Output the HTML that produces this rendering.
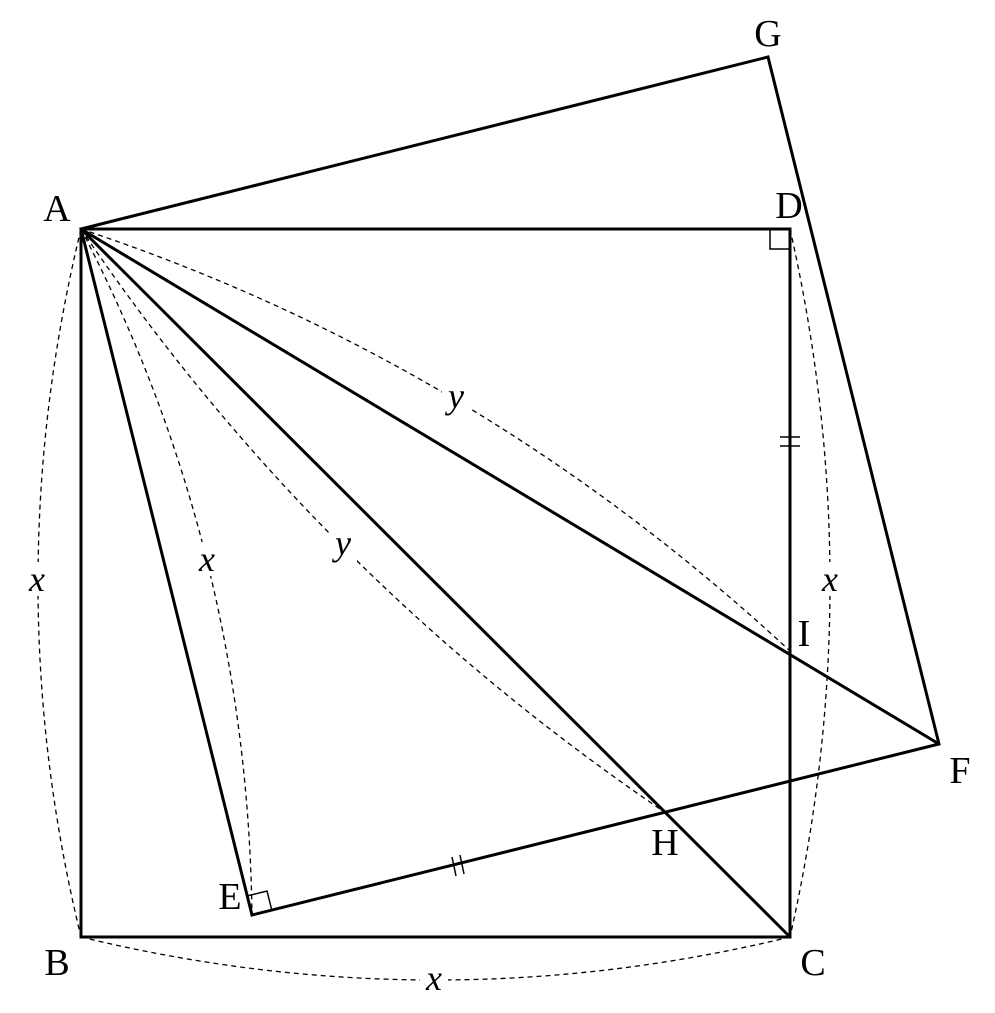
<!DOCTYPE html>
<html><head><meta charset="utf-8"><style>html,body{margin:0;padding:0;background:#fff}svg{display:block}</style></head>
<body>
<svg width="995" height="1013" viewBox="0 0 995 1013" xmlns="http://www.w3.org/2000/svg">
<g fill="none" stroke="#000" stroke-width="1.3" stroke-dasharray="5,4">
<path d="M81,229 Q-5,583 81,937"/>
<path d="M81,937 Q435,1023 790,937"/>
<path d="M790,229 Q870,583 790,937"/>
<path d="M81,229 Q247,548 252,915"/>
<path d="M81,229 Q314,574 663,811"/>
<path d="M81,229 Q476,360 790,651"/>
</g>
<g fill="none" stroke="#000" stroke-width="3" stroke-linejoin="miter">
<polygon points="81,229 790,229 790,937 81,937"/>
<polygon points="81,229 768,57 939,744 252,915"/>
<line x1="81" y1="229" x2="790" y2="937"/>
<line x1="81" y1="229" x2="939" y2="744"/>
</g>
<g fill="none" stroke="#000" stroke-width="1.5">
<polyline points="770,229 770,249 790,249"/>
<polyline points="247,896 267,891 272,911"/>
<line x1="780" y1="437" x2="800" y2="437"/>
<line x1="780" y1="446" x2="800" y2="446"/>
<line x1="452" y1="857" x2="456" y2="876"/>
<line x1="460" y1="855" x2="464" y2="874"/>
</g>
<g font-family="Liberation Serif, serif" font-size="38" fill="#000" text-anchor="middle">
<text x="57" y="221">A</text>
<text x="768" y="46">G</text>
<text x="789" y="218">D</text>
<text x="804" y="646">I</text>
<text x="960" y="783">F</text>
<text x="665" y="855">H</text>
<text x="230" y="909">E</text>
<text x="57" y="975">B</text>
<text x="813" y="975">C</text>
</g>
<g font-family="Liberation Serif, serif" font-style="italic" font-size="36" fill="#000" text-anchor="middle">
<rect x="24" y="562" width="28" height="34" fill="#fff"/><text x="37" y="591">x</text>
<rect x="193" y="542" width="28" height="34" fill="#fff"/><text x="207" y="571">x</text>
<rect x="816" y="562" width="28" height="34" fill="#fff"/><text x="830" y="591">x</text>
<rect x="420" y="962" width="28" height="34" fill="#fff"/><text x="434" y="990">x</text>
<rect x="442" y="382" width="28" height="36" fill="#fff"/><text x="456" y="408">y</text>
<rect x="329" y="530" width="28" height="36" fill="#fff"/><text x="343" y="555">y</text>
</g>
</svg>
</body></html>
